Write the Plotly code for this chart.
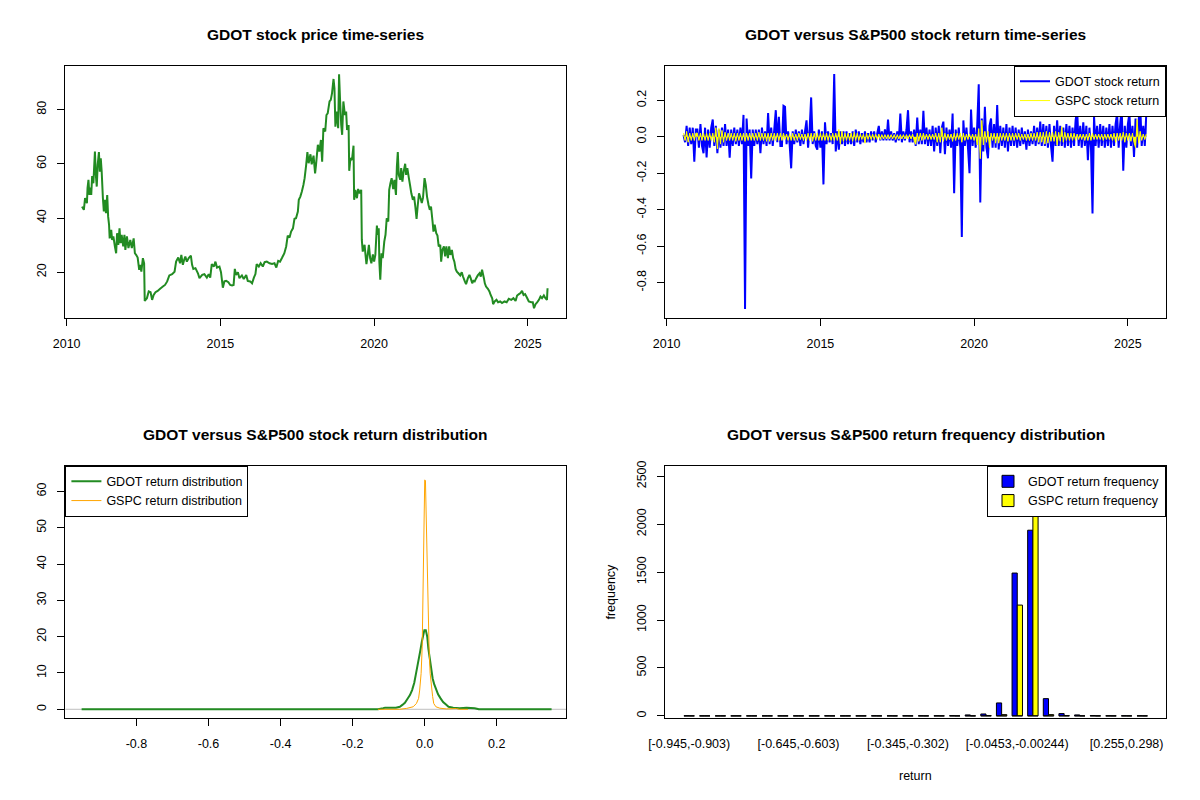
import numpy as np
import plotly.graph_objects as go

FONT = "Liberation Sans, Arial, sans-serif"

# ---- GDOT closing price (decimal year, USD) ----
price_year = [
    2010.50, 2010.56, 2010.60, 2010.66, 2010.68, 2010.71, 2010.74, 2010.77, 2010.80, 2010.83,
    2010.87, 2010.92, 2010.95, 2010.98, 2011.01, 2011.05, 2011.08, 2011.11, 2011.14, 2011.18,
    2011.21, 2011.24, 2011.28, 2011.32, 2011.35, 2011.38, 2011.40, 2011.45, 2011.48, 2011.52,
    2011.57, 2011.61, 2011.64, 2011.68, 2011.72, 2011.75, 2011.79, 2011.84, 2011.88, 2011.91,
    2011.96, 2012.01, 2012.07, 2012.12, 2012.18, 2012.22, 2012.26, 2012.31, 2012.36, 2012.39,
    2012.43, 2012.48, 2012.52, 2012.54, 2012.61, 2012.67, 2012.73, 2012.78, 2012.83, 2012.89,
    2012.96, 2013.04, 2013.13, 2013.20, 2013.27, 2013.34, 2013.43, 2013.51, 2013.56, 2013.63,
    2013.69, 2013.73, 2013.78, 2013.82, 2013.86, 2013.91, 2013.97, 2014.04, 2014.08, 2014.12,
    2014.19, 2014.27, 2014.32, 2014.41, 2014.48, 2014.56, 2014.62, 2014.67, 2014.72, 2014.79,
    2014.84, 2014.89, 2014.97, 2015.02, 2015.08, 2015.13, 2015.19, 2015.26, 2015.32, 2015.38,
    2015.43, 2015.47, 2015.51, 2015.57, 2015.62, 2015.70, 2015.76, 2015.84, 2015.89, 2015.97,
    2016.03, 2016.09, 2016.14, 2016.18, 2016.25, 2016.31, 2016.38, 2016.44, 2016.51, 2016.60,
    2016.68, 2016.76, 2016.82, 2016.88, 2016.94, 2017.01, 2017.08, 2017.14, 2017.19, 2017.25,
    2017.30, 2017.36, 2017.41, 2017.46, 2017.52, 2017.55, 2017.60, 2017.65, 2017.70, 2017.74,
    2017.79, 2017.83, 2017.87, 2017.93, 2017.97, 2018.03, 2018.08, 2018.11, 2018.17, 2018.22,
    2018.27, 2018.31, 2018.35, 2018.41, 2018.45, 2018.49, 2018.55, 2018.59, 2018.63, 2018.68,
    2018.71, 2018.74, 2018.79, 2018.83, 2018.86, 2018.89, 2018.93, 2018.96, 2019.00, 2019.05,
    2019.09, 2019.12, 2019.17, 2019.19, 2019.23, 2019.28, 2019.33, 2019.35, 2019.39, 2019.44,
    2019.48, 2019.53, 2019.58, 2019.60, 2019.63, 2019.69, 2019.72, 2019.75, 2019.79, 2019.83,
    2019.87, 2019.91, 2019.96, 2020.00, 2020.04, 2020.09, 2020.12, 2020.15, 2020.17, 2020.20,
    2020.24, 2020.28, 2020.33, 2020.37, 2020.41, 2020.46, 2020.49, 2020.53, 2020.57, 2020.62,
    2020.66, 2020.71, 2020.74, 2020.77, 2020.80, 2020.85, 2020.88, 2020.92, 2020.96, 2021.01,
    2021.04, 2021.08, 2021.13, 2021.17, 2021.21, 2021.26, 2021.30, 2021.34, 2021.38, 2021.42,
    2021.46, 2021.51, 2021.55, 2021.59, 2021.64, 2021.68, 2021.72, 2021.77, 2021.81, 2021.85,
    2021.90, 2021.93, 2021.97, 2022.02, 2022.06, 2022.10, 2022.15, 2022.18, 2022.22, 2022.27,
    2022.31, 2022.35, 2022.40, 2022.44, 2022.48, 2022.53, 2022.57, 2022.61, 2022.65, 2022.69,
    2022.74, 2022.80, 2022.85, 2022.89, 2022.95, 2022.99, 2023.05, 2023.10, 2023.14, 2023.19,
    2023.23, 2023.27, 2023.32, 2023.37, 2023.43, 2023.47, 2023.51, 2023.57, 2023.60, 2023.64,
    2023.70, 2023.75, 2023.79, 2023.84, 2023.87, 2023.92, 2023.98, 2024.03, 2024.10, 2024.16,
    2024.24, 2024.31, 2024.38, 2024.46, 2024.53, 2024.60, 2024.65, 2024.71, 2024.76, 2024.81,
    2024.86, 2024.91, 2024.98, 2025.03, 2025.11, 2025.16, 2025.20, 2025.25, 2025.30, 2025.36,
    2025.41, 2025.46, 2025.52, 2025.57, 2025.62, 2025.64,
]
price_close = [
    44.2, 43.0, 47.3, 45.5, 51.0, 54.1, 48.5, 51.2, 48.5, 55.5,
    52.8, 64.5, 55.9, 51.6, 59.6, 64.3, 57.1, 62.0, 57.1, 47.3,
    42.4, 46.7, 41.8, 48.5, 40.5, 37.5, 32.5, 35.6, 31.9, 33.2,
    29.5, 27.0, 34.4, 30.1, 36.2, 30.7, 33.8, 29.5, 33.8, 28.2,
    33.2, 28.9, 31.9, 28.9, 32.5, 27.0, 26.4, 25.4, 20.9, 22.7,
    20.2, 25.2, 23.3, 9.4, 10.4, 12.9, 12.6, 9.8, 11.6, 12.6,
    13.1, 13.9, 14.7, 15.3, 16.6, 18.8, 19.3, 20.2, 23.9, 25.4,
    23.3, 26.4, 22.7, 24.5, 25.8, 23.9, 25.2, 26.1, 22.7, 21.2,
    21.5, 19.6, 17.8, 19.0, 19.3, 18.0, 19.3, 18.0, 23.0, 22.1,
    23.9, 21.7, 22.1, 20.0, 14.3, 16.6, 16.8, 16.3, 15.3, 15.1,
    15.3, 21.2, 19.0, 20.0, 17.8, 18.8, 17.5, 19.0, 16.8, 16.6,
    15.9, 18.0, 19.3, 23.0, 22.1, 23.3, 22.1, 23.7, 23.9, 23.3,
    23.0, 23.3, 21.7, 24.2, 23.9, 25.4, 27.0, 29.5, 33.5, 32.8,
    35.0, 36.2, 39.7, 39.9, 42.4, 46.7, 47.9, 49.8, 52.2, 54.7,
    59.6, 64.3, 60.2, 63.5, 59.8, 63.0, 56.5, 59.6, 67.0, 64.5,
    68.8, 60.8, 73.1, 71.9, 78.0, 78.6, 83.0, 83.6, 86.0, 91.3,
    87.9, 73.7, 79.3, 73.1, 93.0, 84.2, 74.3, 70.7, 83.0, 78.0,
    79.3, 72.5, 74.3, 57.4, 62.1, 61.4, 66.7, 46.7, 50.4, 47.3,
    50.7, 49.1, 50.4, 31.9, 27.6, 30.1, 26.4, 23.0, 26.4, 30.1,
    25.2, 23.3, 26.6, 23.9, 26.4, 37.2, 33.8, 36.2, 23.9, 17.2,
    27.0, 25.2, 31.3, 33.8, 39.9, 38.7, 50.4, 52.8, 54.7, 50.7,
    54.1, 48.5, 59.0, 64.3, 55.9, 54.1, 58.4, 53.4, 57.1, 60.0,
    55.9, 58.4, 54.7, 52.0, 49.1, 46.7, 47.9, 44.2, 39.7, 44.8,
    49.1, 47.3, 45.5, 47.5, 54.7, 52.2, 47.9, 44.8, 43.0, 44.2,
    38.7, 35.0, 37.5, 34.4, 33.5, 29.5, 30.1, 23.9, 28.2, 29.5,
    25.8, 29.5, 25.2, 29.5, 26.4, 28.2, 25.2, 23.9, 21.2, 20.2,
    19.6, 18.8, 20.0, 18.4, 16.6, 15.6, 17.8, 19.0, 17.8, 15.9,
    16.8, 16.6, 17.8, 18.8, 19.6, 18.4, 20.9, 17.8, 15.9, 14.7,
    13.9, 12.9, 11.6, 10.4, 8.2, 9.2, 9.8, 8.9, 9.2, 8.6,
    9.2, 8.9, 10.2, 9.8, 10.4, 9.4, 11.4, 11.9, 12.3, 13.1,
    11.6, 11.9, 10.4, 9.2, 8.9, 8.9, 6.7, 8.2, 8.9, 9.8,
    11.0, 10.4, 11.4, 10.4, 9.8, 14.1,
]

# ---- daily-return traces, sampled every 0.05 year from 2010.55 ----
ret_start = 2010.55
ret_step = 0.05
gdot_return = [
    0.01, -0.03, 0.06, -0.05, 0.05, -0.04, 0.05, -0.137, 0.04,
    0.04, -0.06, 0.07, -0.05, -0.09, 0.05, -0.113, 0.04, -0.06, 0.05, 0.095, -0.05, 0.06, -0.09, 0.04, -0.06, 0.05, -0.05, 0.07, -0.05,
    0.04, -0.115, 0.04, -0.05, 0.05, -0.04, 0.04, -0.05, 0.05, -0.04, 0.12, -0.945, 0.10, -0.05, 0.04, -0.228, 0.04, -0.05, 0.04, -0.04,
    0.04, -0.09, 0.05, -0.04, 0.03, -0.05, 0.13, -0.04, 0.05, -0.05, 0.04, 0.146, -0.03, 0.11, -0.05, -0.05, 0.17, 0.165, -0.04, 0.03,
    -0.04, -0.173, 0.03, -0.04, 0.04, -0.03, 0.03, -0.05, 0.04, -0.04, 0.03, 0.09, -0.06, 0.04, 0.216, -0.04, 0.03, -0.05, -0.07, 0.04,
    -0.06, 0.03, -0.261, 0.08, -0.04, 0.03, -0.03, 0.02, -0.04, 0.344, -0.08, 0.03, -0.07, 0.03, -0.04, 0.03, -0.05, 0.03, -0.04, 0.02,
    -0.04, 0.03, -0.05, 0.04, -0.03, 0.03, -0.04, 0.02, -0.03, 0.03, -0.03, 0.02, -0.03, 0.03, -0.02, 0.03, -0.03, 0.02, 0.06, -0.02,
    0.03, -0.02, 0.04, -0.02, 0.095, -0.02, 0.03, -0.02, 0.02, -0.03, 0.03, -0.02, 0.128, -0.03, 0.03, -0.02, 0.04, 0.146, -0.03, 0.03,
    -0.03, 0.04, -0.05, 0.106, -0.04, 0.04, -0.04, 0.143, -0.04, 0.05, -0.05, 0.04, -0.05, 0.06, -0.08, 0.05, -0.05, 0.06, -0.09, 0.05,
    0.083, -0.095, 0.05, -0.05, 0.04, -0.06, 0.128, -0.31, 0.04, -0.05, 0.05, -0.06, -0.55, 0.09, -0.05, 0.05, -0.06, -0.20, 0.15, -0.05,
    0.05, -0.06, 0.06, 0.288, -0.36, 0.10, -0.08, 0.165, -0.06, -0.118, 0.06, 0.10, -0.06, 0.07, -0.06, 0.174, -0.07, 0.06, -0.05, 0.05,
    -0.06, 0.07, -0.08, 0.05, -0.05, 0.06, -0.05, 0.05, -0.06, 0.04, -0.05, 0.05, -0.04, 0.03, -0.07, 0.04, -0.05, 0.03, -0.04, 0.06,
    -0.05, 0.05, -0.04, 0.083, -0.05, 0.07, -0.05, 0.06, -0.06, 0.07, -0.05, -0.137, 0.06, -0.05, 0.09, -0.05, 0.06, -0.05, 0.05, -0.06,
    0.07, -0.05, 0.06, -0.06, 0.05, -0.05, 0.09, 0.15, -0.05, 0.06, -0.06, 0.08, -0.05, 0.06, -0.128, 0.05, -0.06, -0.42, 0.11, -0.05,
    0.06, -0.06, 0.07, -0.05, 0.06, -0.06, 0.05, -0.05, 0.07, -0.06, 0.06, -0.05, 0.07, 0.128, -0.06, 0.07, 0.16, -0.186, 0.06, -0.06,
    0.07, 0.13, -0.05, 0.06, -0.11, 0.10, -0.06, 0.09, 0.18, -0.05, 0.06, -0.05, 0.13,
]
gspc_return = [
    0.02, -0.02, 0.03, -0.03, 0.02, -0.02, 0.02, -0.02, 0.02,
    0.02, -0.02, 0.02, -0.02, 0.02, -0.02, 0.02, -0.02, 0.02, -0.02, 0.02, -0.03, 0.05, -0.066, 0.046, -0.04, 0.035, -0.03, 0.025, -0.02,
    0.02, -0.02, 0.02, -0.02, 0.02, -0.025, 0.02, -0.02, 0.02, -0.02, 0.02, -0.025, 0.02, -0.02, 0.02, -0.02, 0.02, -0.02, 0.02, -0.02,
    0.025, -0.02, 0.02, -0.02, 0.02, -0.025, 0.02, -0.025, 0.02, -0.02, 0.02, -0.02, 0.02, -0.02, 0.02, -0.02, 0.02, -0.015, 0.015, -0.02,
    0.015, -0.02, 0.02, -0.02, 0.015, -0.02, 0.02, -0.015, 0.015, -0.02, 0.015, -0.02, 0.02, -0.02, 0.02, -0.025, 0.02, -0.02, 0.02, -0.02,
    0.02, -0.02, 0.02, -0.02, 0.02, -0.02, 0.015, -0.02, 0.02, -0.02, 0.02, -0.02, 0.04, -0.04, 0.03, -0.025, 0.02, -0.02, 0.02, -0.02,
    0.02, -0.025, 0.025, -0.02, 0.02, -0.02, 0.015, -0.015, 0.015, -0.035, 0.02, -0.015, 0.015, -0.015, 0.015, -0.015, 0.015, -0.015, 0.015, -0.015,
    0.012, -0.012, 0.012, -0.012, 0.012, -0.012, 0.012, -0.012, 0.012, -0.015, 0.012, -0.012, 0.012, -0.012, 0.012, -0.012, 0.012, -0.012, 0.012, -0.012,
    0.015, -0.02, -0.041, 0.02, -0.025, 0.02, -0.02, 0.02, -0.015, 0.015, -0.015, 0.015, -0.015, 0.015, -0.015, 0.02, -0.03, 0.02, -0.03, 0.05,
    -0.025, 0.02, -0.02, 0.015, -0.015, 0.015, -0.025, 0.02, -0.02, 0.02, -0.015, 0.02, -0.03, 0.02, -0.02, 0.015, -0.015, 0.015, -0.015, 0.015,
    -0.02, 0.015, -0.045, 0.045, -0.12, 0.09, -0.045, 0.03, -0.03, 0.03, -0.06, 0.02, -0.02, 0.02, -0.035, 0.02, -0.035, 0.02, -0.02, 0.02,
    -0.02, 0.02, -0.025, 0.02, -0.02, 0.02, -0.02, 0.02, -0.015, 0.02, -0.02, 0.015, -0.015, 0.015, -0.02, 0.015, -0.02, 0.02, -0.02, 0.02,
    -0.02, 0.025, -0.03, 0.025, -0.03, 0.025, -0.04, 0.03, -0.035, 0.025, -0.025, 0.025, -0.025, 0.03, -0.045, 0.025, -0.025, 0.055, -0.03, 0.025,
    -0.02, 0.02, -0.02, 0.02, -0.02, 0.02, -0.02, 0.015, -0.015, 0.015, -0.015, 0.015, -0.02, 0.015, -0.02, 0.02, -0.02, 0.02, -0.015, 0.015,
    -0.015, 0.015, -0.015, 0.015, -0.02, 0.015, -0.015, 0.015, -0.015, 0.015, -0.02, 0.02, -0.03, 0.02, -0.02, 0.02, -0.02, 0.025, -0.03, 0.02,
    -0.02, 0.02, -0.025, 0.02, -0.03, -0.06, 0.095, -0.035, 0.03, -0.02, 0.015, -0.015, 0.015,
]

# ---- kernel density of the returns ----
gdot_dens_x = [-0.952, -0.13, -0.115, -0.11, -0.08, -0.069, -0.062, -0.055, -0.049, -0.041,
               -0.035, -0.029, -0.025, -0.020, -0.015, -0.012, -0.008, -0.004, -0.001, 0.003,
               0.007, 0.010, 0.014, 0.018, 0.022, 0.026, 0.031, 0.037, 0.044, 0.051,
               0.059, 0.066, 0.079, 0.097, 0.116, 0.139, 0.15, 0.352]
gdot_dens_y = [0.0, 0.0, 0.3, 0.45, 0.45, 0.7, 1.2, 1.8, 2.7, 3.9,
               5.3, 7.3, 9.4, 11.7, 14.0, 16.3, 18.6, 20.9, 21.8, 21.8,
               20.0, 16.8, 13.5, 10.8, 8.5, 7.0, 5.5, 4.1, 3.0, 2.0,
               1.3, 0.7, 0.45, 0.3, 0.45, 0.3, 0.0, 0.0]
gspc_dens_x = [-0.13, -0.07, -0.05, -0.032, -0.023, -0.017, -0.014, -0.010, -0.007, -0.005,
               -0.003, -0.002, 0.000, 0.002, 0.004, 0.006, 0.008, 0.0095, 0.012, 0.015,
               0.018, 0.022, 0.025, 0.031, 0.042, 0.060, 0.088, 0.097, 0.12]
gspc_dens_y = [0.0, 0.0, 0.25, 0.7, 1.6, 3.0, 5.3, 9.9, 17.2, 28.2,
               45.1, 55.7, 63.2, 63.0, 53.4, 41.0, 31.9, 26.4, 17.2, 9.9,
               6.2, 3.5, 1.6, 0.7, 0.3, 0.1, 0.2, 0.0, 0.0]

# ---- return frequency in 30 equal bins ----
gdot_freq = [1, 0, 0, 0, 0, 0, 0, 0, 0, 1, 0, 0, 1, 1, 1, 1, 1, 2, 10, 20,
             135, 1490, 1937, 180, 24, 10, 3, 1, 1, 1]
gspc_freq = [0, 0, 0, 0, 0, 0, 0, 0, 0, 0, 0, 0, 0, 0, 0, 0, 0, 0, 0, 3,
             13, 1156, 2610, 13, 3, 0, 0, 0, 0, 0]
bin_tick_idx = [0, 7, 14, 21, 28]
bin_tick_text = ["[-0.945,-0.903)", "[-0.645,-0.603)", "[-0.345,-0.302)",
                 "[-0.0453,-0.00244)", "[0.255,0.298)"]

ret_year = np.round(ret_start + ret_step * np.arange(len(gdot_return)), 2)
bin_idx = np.arange(len(gdot_freq))
BAR_W = 1 / 3

# page offset of the plot div (browser body margin), in px
OFF = 8
W, H = 1200, 800


def fx(px):
    return (px - OFF) / W


def fy(py):
    return 1 - (py - OFF) / H


fig = go.Figure()

# Panel 1: price
fig.add_trace(go.Scatter(x=price_year, y=price_close, mode="lines",
                         line=dict(color="#228B22", width=2, simplify=False),
                         xaxis="x", yaxis="y", showlegend=False))

# Panel 2: returns; the original daily lines are so dense they read as a filled band
fig.add_trace(go.Scatter(x=ret_year, y=gdot_return, mode="lines",
                         line=dict(width=0, simplify=False),
                         fill="tozeroy", fillcolor="#0000FF", xaxis="x2", yaxis="y2",
                         showlegend=False, hoverinfo="skip"))
fig.add_trace(go.Scatter(x=ret_year, y=gdot_return, mode="lines", name="GDOT stock return",
                         line=dict(color="#0000FF", width=2, simplify=False),
                         xaxis="x2", yaxis="y2", legend="legend"))
fig.add_trace(go.Scatter(x=ret_year, y=gspc_return, mode="lines",
                         line=dict(width=0, simplify=False),
                         fill="tozeroy", fillcolor="#FFFF00", xaxis="x2", yaxis="y2",
                         showlegend=False, hoverinfo="skip"))
fig.add_trace(go.Scatter(x=ret_year, y=gspc_return, mode="lines", name="GSPC stock return",
                         line=dict(color="#FFFF00", width=1, simplify=False),
                         xaxis="x2", yaxis="y2", legend="legend"))

# Panel 3: density
fig.add_trace(go.Scatter(x=gdot_dens_x, y=gdot_dens_y, mode="lines", name="GDOT return distribution",
                         line=dict(color="#228B22", width=2), xaxis="x3", yaxis="y3",
                         legend="legend2"))
fig.add_trace(go.Scatter(x=gspc_dens_x, y=gspc_dens_y, mode="lines", name="GSPC return distribution",
                         line=dict(color="#FFA500", width=1), xaxis="x3", yaxis="y3",
                         legend="legend2"))

# Panel 4: frequency bars
fig.add_trace(go.Bar(x=bin_idx, y=gdot_freq, name="GDOT return frequency",
                     marker=dict(color="#0000FF", line=dict(color="black", width=1)),
                     xaxis="x4", yaxis="y4", legend="legend3"))
fig.add_trace(go.Bar(x=bin_idx, y=gspc_freq, name="GSPC return frequency",
                     marker=dict(color="#FFFF00", line=dict(color="black", width=1)),
                     xaxis="x4", yaxis="y4", legend="legend3"))
# outline of the empty bins along the baseline
dash_x, dash_y = [], []
for g in bin_idx:
    dash_x += [g - BAR_W, g + BAR_W, None]
    dash_y += [0, 0, None]
fig.add_trace(go.Scatter(x=dash_x, y=dash_y, mode="lines", line=dict(color="black", width=1),
                         xaxis="x4", yaxis="y4", showlegend=False, hoverinfo="skip"))

tick_font = dict(family=FONT, size=12.5, color="black")
base = dict(showline=True, mirror=True, linecolor="black", linewidth=1,
            ticks="outside", ticklen=7, tickcolor="black", showgrid=False,
            zeroline=False, tickfont=tick_font, automargin=False)

# plot boxes in screen px
left_dom = [fx(65.4), fx(566)]
right_dom = [fx(665.4), fx(1166)]
top_dom = [fy(318), fy(65.7)]
bot_dom = [fy(718), fy(465.7)]

year_ticks = [2010, 2015, 2020, 2025]

fig.update_layout(
    template="none",
    width=W, height=H,
    margin=dict(l=0, r=0, t=0, b=0, autoexpand=False),
    paper_bgcolor="white", plot_bgcolor="white",
    font=dict(family=FONT, color="black"),
    barmode="group", bargap=1 / 3, bargroupgap=0,
    xaxis=dict(base, domain=left_dom, anchor="y", range=[2009.96, 2026.24],
               tickvals=year_ticks, ticklabelstandoff=7),
    yaxis=dict(base, domain=top_dom, anchor="x", range=[3.1, 96.2],
               tickvals=[20, 40, 60, 80], tickangle=-90, ticklabelstandoff=6),
    xaxis2=dict(base, domain=right_dom, anchor="y2", range=[2009.96, 2026.24],
                tickvals=year_ticks, ticklabelstandoff=7),
    yaxis2=dict(base, domain=top_dom, anchor="x2", range=[-0.994, 0.39],
                tickvals=[-0.8, -0.6, -0.4, -0.2, 0.0, 0.2],
                ticktext=["-0.8", "-0.6", "-0.4", "-0.2", "0.0", "0.2"],
                tickangle=-90, ticklabelstandoff=6),
    xaxis3=dict(base, domain=left_dom, anchor="y3", range=[-0.997, 0.392],
                tickvals=[-0.8, -0.6, -0.4, -0.2, 0.0, 0.2],
                ticktext=["-0.8", "-0.6", "-0.4", "-0.2", "0.0", "0.2"],
                ticklabelstandoff=7),
    yaxis3=dict(base, domain=bot_dom, anchor="x3", range=[-2.4, 67.1],
                tickvals=[0, 10, 20, 30, 40, 50, 60], tickangle=-90, ticklabelstandoff=6),
    xaxis4=dict(base, domain=right_dom, anchor="y4", range=[-1.52, 30.52],
                ticks="", tickvals=bin_tick_idx, ticktext=bin_tick_text,
                ticklabelstandoff=14),
    yaxis4=dict(base, domain=bot_dom, anchor="x4", range=[-22, 2610],
                tickvals=[0, 500, 1000, 1500, 2000, 2500], tickangle=-90,
                ticklabelstandoff=6),
)

legend_style = dict(bgcolor="white", bordercolor="black", borderwidth=1,
                    font=dict(family=FONT, size=12.5, color="black"),
                    tracegroupgap=0)
fig.update_layout(
    legend=dict(legend_style, x=right_dom[1], xanchor="right", y=top_dom[1], yanchor="top"),
    legend2=dict(legend_style, x=left_dom[0], xanchor="left", y=bot_dom[1], yanchor="top"),
    legend3=dict(legend_style, x=right_dom[1], xanchor="right", y=bot_dom[1], yanchor="top"),
)

# gray zero line of the density plot
fig.add_shape(type="line", xref="x3 domain", yref="y3", x0=0, x1=1, y0=0, y1=0,
              line=dict(color="#BEBEBE", width=1), layer="below")

titles = [
    ("GDOT stock price time-series", sum(left_dom) / 2, fy(34.3)),
    ("GDOT versus S&P500 stock return time-series", sum(right_dom) / 2, fy(34.3)),
    ("GDOT versus S&P500 stock return distribution", sum(left_dom) / 2, fy(434.3)),
    ("GDOT versus S&P500 return frequency distribution", sum(right_dom) / 2, fy(434.3)),
]
for text, x, y in titles:
    fig.add_annotation(text=text, x=x, y=y, xref="paper", yref="paper",
                       xanchor="center", yanchor="middle", showarrow=False,
                       font=dict(family=FONT, size=15.5, color="black", weight="bold"))

fig.add_annotation(text="return", x=sum(right_dom) / 2, y=fy(775.7),
                   xref="paper", yref="paper", showarrow=False,
                   xanchor="center", yanchor="middle", font=tick_font)
fig.add_annotation(text="frequency", x=fx(610.7), y=sum(bot_dom) / 2,
                   xref="paper", yref="paper", showarrow=False, textangle=-90,
                   xanchor="center", yanchor="middle", font=tick_font)

fig.write_html("out.html")
